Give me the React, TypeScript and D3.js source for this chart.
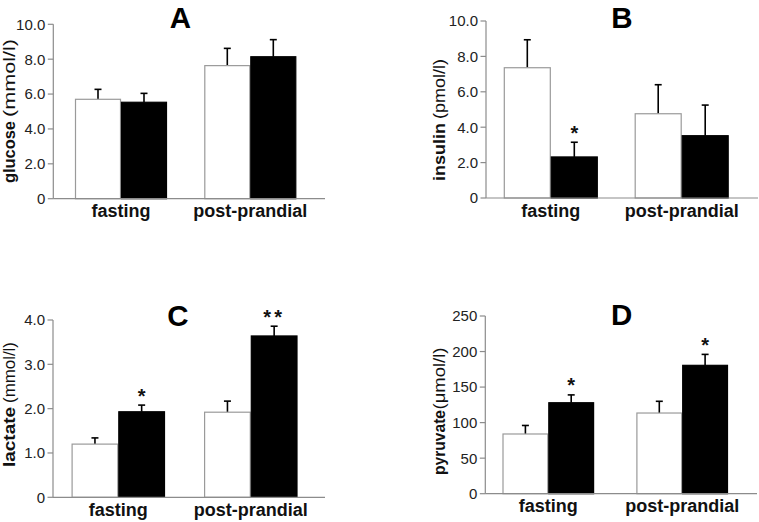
import React from "react";
import * as d3 from "d3";

// ---------- data ----------
const categories = ["fasting", "post-prandial"];

const glucoseControl = [5.7, 7.63];
const glucoseControlErr = [0.57, 0.99];
const glucoseTreated = [5.53, 8.14];
const glucoseTreatedErr = [0.51, 0.98];
const glucoseSig = ["", ""];
const glucoseTicks = [0, 2, 4, 6, 8, 10];

const insulinControl = [7.36, 4.76];
const insulinControlErr = [1.58, 1.64];
const insulinTreated = [2.32, 3.52];
const insulinTreatedErr = [0.83, 1.73];
const insulinSig = ["*", ""];
const insulinTicks = [0, 2, 4, 6, 8, 10];

const lactateControl = [1.2, 1.92];
const lactateControlErr = [0.14, 0.25];
const lactateTreated = [1.93, 3.64];
const lactateTreatedErr = [0.15, 0.22];
const lactateSig = ["*", "**"];
const lactateTicks = [0, 1, 2, 3, 4];

const pyruvateControl = [84, 113.5];
const pyruvateControlErr = [12, 16.5];
const pyruvateTreated = [128, 180.6];
const pyruvateTreatedErr = [11, 15.4];
const pyruvateSig = ["*", "*"];
const pyruvateTicks = [0, 50, 100, 150, 200, 250];

const FONT = "'Liberation Sans', Arial, Helvetica, sans-serif";

const fmtDec = (v: number) => (v === 0 ? "0" : d3.format(".1f")(v));
const fmtInt = (v: number) => d3.format("d")(v);

type PanelProps = {
  title: string;
  control: number[];
  controlErr: number[];
  treated: number[];
  treatedErr: number[];
  sig: string[];
  ticks: number[];
  fmt: (v: number) => string;
  labelBold: string;
  labelReg: string;
  labelGap: number;
  // layout
  axisX: number;
  xEnd: number;
  yTop: number;
  yBottom: number;
  centers: [number, number];
  barW: number;
  titleX: number;
  titleY: number;
  labelX: number;
  labelStart: number;
  labelSize: number;
  boldLen: number;
  regLen: number;
};

function Panel(p: PanelProps) {
  const max = p.ticks[p.ticks.length - 1];
  const y = d3.scaleLinear().domain([0, max]).range([p.yBottom, p.yTop]);
  const x = d3.scalePoint<string>().domain(categories).range(p.centers);
  const axisColor = "#8c8c8c";

  const bars: { x: number; v: number; e: number; fill: string; stroke: string; sig: string }[] = [];
  categories.forEach((c, i) => {
    const cx = x(c)!;
    bars.push({ x: cx - p.barW, v: p.control[i], e: p.controlErr[i], fill: "#ffffff", stroke: "#9a9a9a", sig: "" });
    bars.push({ x: cx, v: p.treated[i], e: p.treatedErr[i], fill: "#000000", stroke: "#000000", sig: p.sig[i] });
  });

  return (
    <g>
      {bars.map((b, i) => {
        const top = y(b.v);
        const errTop = y(b.v + b.e);
        const mid = b.x + p.barW / 2;
        return (
          <g key={i}>
            <line x1={mid} x2={mid} y1={top} y2={errTop} stroke="#000" strokeWidth={1.6} />
            <line x1={mid - 3.5} x2={mid + 3.5} y1={errTop} y2={errTop} stroke="#000" strokeWidth={1.6} />
            <rect
              x={b.x + 0.5}
              y={top}
              width={p.barW - 1}
              height={p.yBottom - top}
              fill={b.fill}
              stroke={b.stroke}
              strokeWidth={1.2}
            />
            {b.sig && (
              <text
                x={mid}
                y={errTop - 2.5}
                textAnchor="middle"
                fontFamily={FONT}
                fontWeight="bold"
                fontSize={20}
                letterSpacing={b.sig.length > 1 ? 3 : 0}
                fill="#111"
              >
                {b.sig}
              </text>
            )}
          </g>
        );
      })}
      <line x1={p.axisX} x2={p.axisX} y1={p.yTop} y2={p.yBottom} stroke={axisColor} strokeWidth={1.2} />
      <line x1={p.axisX} x2={p.xEnd} y1={p.yBottom} y2={p.yBottom} stroke={axisColor} strokeWidth={1.2} />
      {p.ticks.map((t) => (
        <g key={t}>
          <line x1={p.axisX - 5.5} x2={p.axisX} y1={y(t)} y2={y(t)} stroke={axisColor} strokeWidth={1.2} />
          <text
            x={p.axisX - 8}
            y={y(t)}
            dy="0.36em"
            textAnchor="end"
            fontFamily={FONT}
            fontSize={15}
            fill="#222"
          >
            {p.fmt(t)}
          </text>
        </g>
      ))}
      {categories.map((c) => (
        <text
          key={c}
          x={x(c)!}
          y={p.yBottom + 18.5}
          textAnchor="middle"
          fontFamily={FONT}
          fontWeight="bold"
          fontSize={18}
          fill="#111"
        >
          {c}
        </text>
      ))}
      <text x={p.titleX} y={p.titleY} textAnchor="middle" fontFamily={FONT} fontWeight="bold" fontSize={29.5} fill="#000">
        {p.title}
      </text>
      <g transform={`translate(${p.labelX},${p.labelStart}) rotate(-90)`}>
        <text
          x={0}
          y={0}
          fontFamily={FONT}
          fontWeight="bold"
          fontSize={p.labelSize}
          textLength={p.boldLen}
          lengthAdjust="spacingAndGlyphs"
          fill="#111"
        >
          {p.labelBold}
        </text>
        <text
          x={p.boldLen + p.labelGap}
          y={0}
          fontFamily={FONT}
          fontSize={p.labelSize}
          textLength={p.regLen}
          lengthAdjust="spacingAndGlyphs"
          fill="#111"
        >
          {p.labelReg}
        </text>
      </g>
    </g>
  );
}

export default function App() {
  return (
    <svg
      width={759}
      height={522}
      style={{ position: "absolute", left: 0, top: 0, background: "#fff" }}
    >
      <rect width={759} height={522} fill="#fff" />
      <Panel
        title="A"
        control={glucoseControl}
        controlErr={glucoseControlErr}
        treated={glucoseTreated}
        treatedErr={glucoseTreatedErr}
        sig={glucoseSig}
        ticks={glucoseTicks}
        fmt={fmtDec}
        labelBold="glucose"
        labelReg="(mmol/l)"
        labelGap={4}
        axisX={53.3}
        xEnd={325}
        yTop={24.3}
        yBottom={198.7}
        centers={[121, 250.3]}
        barW={46}
        titleX={180.5}
        titleY={27.5}
        labelX={15}
        labelStart={183}
        labelSize={16}
        boldLen={62}
        regLen={78}
      />
      <Panel
        title="B"
        control={insulinControl}
        controlErr={insulinControlErr}
        treated={insulinTreated}
        treatedErr={insulinTreatedErr}
        sig={insulinSig}
        ticks={insulinTicks}
        fmt={fmtDec}
        labelBold="insulin"
        labelReg="(pmol/l)"
        labelGap={4}
        axisX={486}
        xEnd={758}
        yTop={21}
        yBottom={198}
        centers={[550.8, 681.7]}
        barW={47}
        titleX={622}
        titleY={27.5}
        labelX={445}
        labelStart={181}
        labelSize={17}
        boldLen={58}
        regLen={60}
      />
      <Panel
        title="C"
        control={lactateControl}
        controlErr={lactateControlErr}
        treated={lactateTreated}
        treatedErr={lactateTreatedErr}
        sig={lactateSig}
        ticks={lactateTicks}
        fmt={fmtDec}
        labelBold="lactate"
        labelReg="(mmol/l)"
        labelGap={4}
        axisX={53}
        xEnd={325}
        yTop={320}
        yBottom={497.3}
        centers={[118.3, 250.8]}
        barW={46.7}
        titleX={178}
        titleY={326}
        labelX={15}
        labelStart={467}
        labelSize={16}
        boldLen={60}
        regLen={61}
      />
      <Panel
        title="D"
        control={pyruvateControl}
        controlErr={pyruvateControlErr}
        treated={pyruvateTreated}
        treatedErr={pyruvateTreatedErr}
        sig={pyruvateSig}
        ticks={pyruvateTicks}
        fmt={fmtInt}
        labelBold="pyruvate"
        labelReg="(μmol/l)"
        labelGap={0.5}
        axisX={485.3}
        xEnd={757}
        yTop={316}
        yBottom={493.7}
        centers={[548.3, 682.2]}
        barW={45.8}
        titleX={621.7}
        titleY={325}
        labelX={445}
        labelStart={475}
        labelSize={17}
        boldLen={65}
        regLen={62}
      />
    </svg>
  );
}
